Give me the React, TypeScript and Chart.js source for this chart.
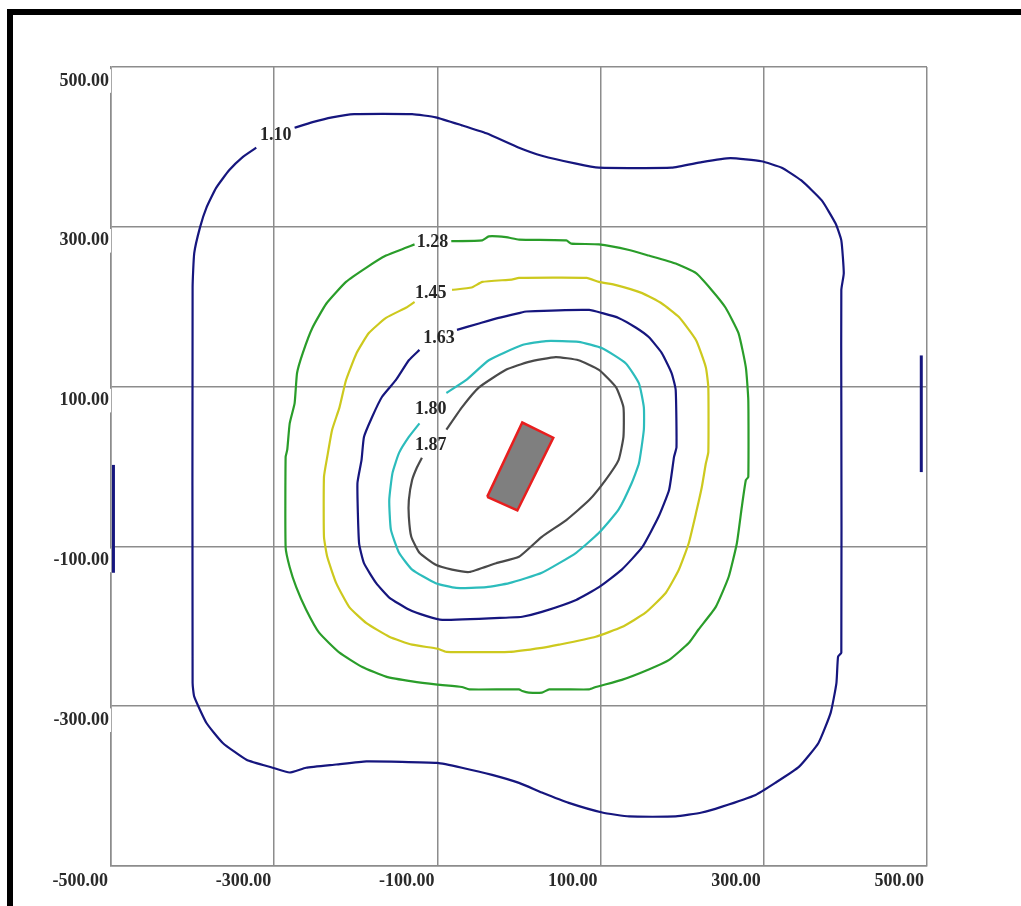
import React, { useEffect, useRef } from "react";
import { Chart, registerables } from "chart.js";

Chart.register(...registerables);

// Axis ticks (both axes share the same grid)
const X_TICKS = [-500, -300, -100, 100, 300, 500];
const Y_TICKS = [-500, -300, -100, 100, 300, 500];

// Contour levels, label anchors and colours
const LEVELS = ["1.10", "1.28", "1.45", "1.63", "1.80", "1.87"];
const LABEL_X = [-298, -106, -108, -98, -108, -108];
const LABEL_Y = [414, 281, 217, 161, 72, 27];
const LEVEL_COLORS = ["#16167e", "#2a9d2a", "#cdc91e", "#16167e", "#2cbcbc", "#4a4a4a"];

// 1.10 contour
const C110_X = [-275, -253, -229, -202, -131, -102, -70, -40, 0, 28, 70, 98, 187, 224, 259, 297, 322, 346, 371, 388, 395, 398, 395, 395, 395, 391, 389, 382, 367, 343, 314, 290, 248, 224, 192, 135, 102, 61, 28, 0, -33, -70, -100, -187, -224, -261, -281, -302, -334, -363, -383, -398, -400, -400, -398, -391, -383, -371, -355, -339, -322];
const C110_Y = [424, 431, 437, 441, 441, 437, 427, 417, 399, 389, 379, 374, 374, 381, 386, 382, 374, 358, 333, 304, 283, 242, 221, 83, -233, -238, -271, -308, -346, -376, -396, -411, -426, -433, -438, -438, -433, -421, -408, -396, -386, -377, -371, -369, -373, -377, -383, -377, -367, -346, -321, -288, -271, 224, 267, 299, 324, 349, 371, 387, 399];

// 1.10 pieces cut by the plot edges
const EDGE_LEFT_X = [-497, -497];
const EDGE_LEFT_Y = [2, -133];
const EDGE_RIGHT_X = [493, 493];
const EDGE_RIGHT_Y = [139, -7];

// 1.28 contour
const C128_X = [-83, -45, -37, -16, 0, 58, 64, 98, 135, 159, 192, 217, 236, 253, 269, 278, 281, 281, 278, 273, 267, 257, 241, 220, 208, 184, 159, 126, 94, 86, 37, 28, 12, 4, 0, -61, -70, -100, -131, -163, -192, -220, -245, -261, -273, -281, -286, -286, -284, -281, -275, -272, -265, -253, -236, -212, -187, -163, -138, -128];
const C128_Y = [282, 283, 288, 287, 284, 283, 279, 278, 271, 264, 254, 242, 221, 199, 167, 124, 83, -13, -17, -51, -96, -138, -176, -204, -221, -242, -254, -267, -276, -279, -279, -283, -283, -281, -279, -279, -276, -273, -269, -263, -251, -233, -208, -179, -151, -126, -101, 12, 21, 54, 79, 117, 142, 174, 204, 231, 249, 264, 274, 278];

// 1.45 contour
const C145_X = [-82, -58, -45, -9, 0, 83, 98, 119, 151, 175, 196, 217, 229, 232, 232, 229, 224, 217, 208, 196, 180, 155, 126, 94, 49, 28, -12, -89, -100, -131, -159, -187, -208, -224, -235, -239, -239, -235, -229, -220, -212, -199, -184, -163, -138, -128];
const C145_Y = [221, 224, 231, 234, 236, 236, 231, 227, 217, 204, 187, 158, 124, 99, 18, 4, -26, -58, -96, -129, -158, -183, -201, -213, -223, -227, -232, -232, -228, -223, -213, -196, -176, -146, -113, -88, -13, 12, 46, 74, 108, 142, 167, 186, 199, 206];

// 1.63 contour
const C163_X = [-76, -49, -25, 0, 9, 86, 102, 122, 143, 159, 175, 187, 192, 193, 190, 184, 171, 151, 126, 98, 70, 28, 4, -12, -94, -114, -135, -159, -175, -190, -196, -198, -193, -190, -180, -168, -151, -135, -122];
const C163_Y = [171, 179, 186, 192, 194, 196, 192, 186, 174, 162, 142, 117, 96, 24, 12, -29, -63, -101, -129, -151, -167, -182, -188, -189, -192, -187, -179, -164, -146, -121, -96, -21, 8, 37, 62, 87, 108, 133, 146];

// 1.80 contour
const C180_X = [-89, -65, -37, 4, 33, 73, 102, 131, 147, 153, 153, 147, 138, 122, 98, 70, 28, -12, -40, -77, -102, -131, -147, -157, -159, -155, -147, -135, -122];
const C180_Y = [92, 108, 133, 152, 157, 156, 148, 129, 104, 74, 46, 4, -21, -54, -83, -108, -133, -146, -151, -152, -146, -129, -108, -79, -42, -8, 17, 37, 54];

// 1.87 contour
const C187_X = [-89, -70, -49, -16, 12, 45, 73, 98, 119, 128, 128, 122, 106, 86, 58, 28, 0, -28, -61, -82, -102, -122, -132, -135, -135, -131, -125, -119];
const C187_Y = [46, 74, 99, 121, 131, 137, 133, 121, 99, 74, 37, 8, -17, -42, -67, -88, -113, -121, -132, -129, -123, -108, -88, -63, -42, -17, -1, 11];

// Source footprint (closed rectangle)
const RECT_X = [-39, 4, 42, -2, -39];
const RECT_Y = [-38, 55, 36, -55, -38];

const toPoints = (xs: number[], ys: number[]) => xs.map((x, i) => ({ x, y: ys[i] }));

const SERIF = "'Liberation Serif', 'Times New Roman', serif";

const levelLabels = {
  id: "levelLabels",
  afterDatasetsDraw(chart: any) {
    const { ctx } = chart;
    const xs = chart.scales.x;
    const ys = chart.scales.y;
    ctx.save();
    ctx.font = `bold 18px ${SERIF}`;
    ctx.fillStyle = "#262626";
    ctx.textAlign = "center";
    ctx.textBaseline = "middle";
    LEVELS.forEach((t, i) => {
      ctx.fillText(t, xs.getPixelForValue(LABEL_X[i]), ys.getPixelForValue(LABEL_Y[i]));
    });
    ctx.restore();
  },
};

const line = (data: { x: number; y: number }[], color: string, width = 2.2) => ({
  data,
  showLine: true,
  borderColor: color,
  backgroundColor: color,
  borderWidth: width,
  pointRadius: 0,
  pointHoverRadius: 0,
  tension: 0.15,
  fill: false,
});

export default function App() {
  const canvasRef = useRef<HTMLCanvasElement | null>(null);

  useEffect(() => {
    if (!canvasRef.current) return;
    const gridColor = "#8c8c8c";
    const tickFont = { family: SERIF, size: 18, weight: "bold" as const };

    const chart = new Chart(canvasRef.current, {
      type: "scatter",
      data: {
        datasets: [
          line(toPoints(C110_X, C110_Y), LEVEL_COLORS[0]),
          line(toPoints(EDGE_LEFT_X, EDGE_LEFT_Y), LEVEL_COLORS[0], 3),
          line(toPoints(EDGE_RIGHT_X, EDGE_RIGHT_Y), LEVEL_COLORS[0], 3),
          line(toPoints(C128_X, C128_Y), LEVEL_COLORS[1]),
          line(toPoints(C145_X, C145_Y), LEVEL_COLORS[2]),
          line(toPoints(C163_X, C163_Y), LEVEL_COLORS[3]),
          line(toPoints(C180_X, C180_Y), LEVEL_COLORS[4]),
          line(toPoints(C187_X, C187_Y), LEVEL_COLORS[5]),
          {
            data: toPoints(RECT_X, RECT_Y),
            showLine: true,
            borderColor: "#e81e1e",
            backgroundColor: "#7f7f7f",
            borderWidth: 2.5,
            pointRadius: 0,
            tension: 0,
            fill: "shape",
          } as any,
        ],
      },
      options: {
        responsive: false,
        animation: false,
        layout: { padding: { left: 0, top: 67, right: 94, bottom: 0 } },
        plugins: {
          legend: { display: false },
          tooltip: { enabled: false },
        },
        scales: {
          x: {
            type: "linear",
            position: "bottom",
            min: -500,
            max: 500,
            afterBuildTicks: (s: any) => {
              s.ticks = X_TICKS.map((v) => ({ value: v }));
            },
            afterFit: (s: any) => {
              s.height = 40;
            },
            grid: { color: gridColor, lineWidth: 1.5, drawTicks: false },
            border: { color: gridColor, width: 1.5 },
            ticks: {
              autoSkip: false,
              maxRotation: 0,
              align: "end",
              labelOffset: -3,
              padding: 5,
              color: "#2a2a2a",
              font: tickFont,
              callback: (v: any) => Number(v).toFixed(2),
            },
          },
          y: {
            type: "linear",
            position: "left",
            min: -500,
            max: 500,
            afterBuildTicks: (s: any) => {
              s.ticks = Y_TICKS.map((v) => ({ value: v }));
            },
            afterFit: (s: any) => {
              s.width = 111;
            },
            grid: { color: gridColor, lineWidth: 1.5, drawTicks: false },
            border: { color: gridColor, width: 1.5 },
            ticks: {
              autoSkip: false,
              align: "center",
              labelOffset: 14,
              padding: 2,
              color: "#2a2a2a",
              font: tickFont,
              showLabelBackdrop: (ctx: any) => ctx.tick && ctx.tick.value !== -500,
              backdropColor: "#ffffff",
              backdropPadding: { top: 1, bottom: 1, left: 2, right: 3 },
              callback: (v: any) => (Number(v) === -500 ? "" : Number(v).toFixed(2)),
            },
          },
        },
      },
      plugins: [levelLabels],
    } as any);

    return () => chart.destroy();
  }, []);

  return (
    <>
      <div
        style={{
          position: "fixed",
          left: 0,
          top: 0,
          width: 1021,
          height: 906,
          background: "#ffffff",
        }}
      >
        <canvas ref={canvasRef} width={1021} height={906} style={{ display: "block" }} />
      </div>
      <div
        style={{
          position: "fixed",
          left: 7,
          top: 9,
          width: 1200,
          height: 1100,
          borderTop: "6px solid #000",
          borderLeft: "6px solid #000",
          boxSizing: "border-box",
          pointerEvents: "none",
        }}
      />
    </>
  );
}
